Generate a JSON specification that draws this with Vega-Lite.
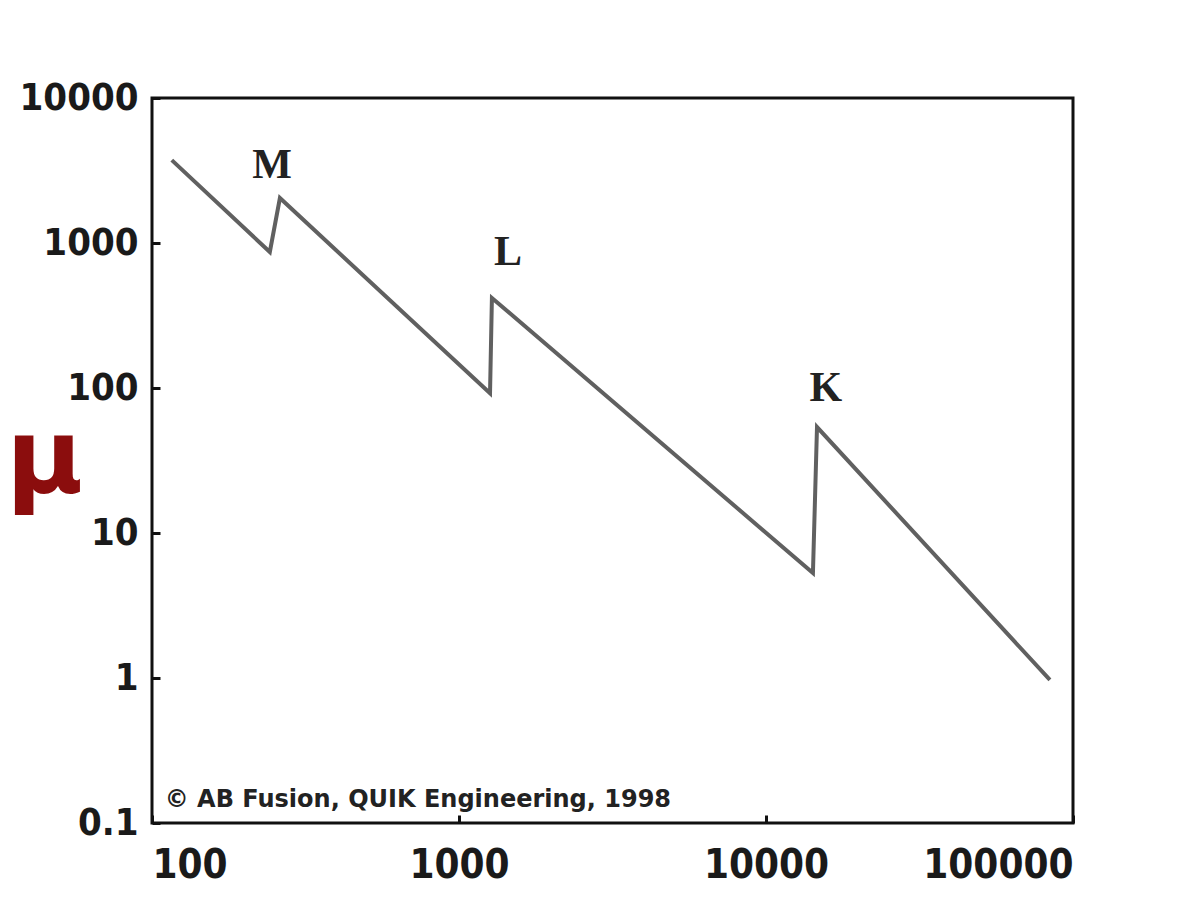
{
  "$schema": "https://vega.github.io/schema/vega-lite/v6.json",
  "width": 921,
  "height": 725,
  "autosize": {"type": "none"},
  "padding": {"left": 152, "top": 98, "right": 105, "bottom": 81},
  "background": "white",
  "config": {
    "view": {"stroke": "#111", "strokeWidth": 3, "fill": "white"},
    "axis": {
      "labelFont": "DejaVu Sans Condensed, DejaVu Sans, sans-serif",
      "labelFontWeight": "bold",
      "labelColor": "#1a1a1a",
      "labelFontSize": 38,
      "grid": false,
      "domain": false,
      "ticks": true,
      "tickColor": "#111",
      "tickWidth": 3,
      "tickSize": -8
    }
  },
  "datasets": {
    "curve": [
      {"order": 1, "energy": 116, "mu": 3730},
      {"order": 2, "energy": 242, "mu": 867},
      {"order": 3, "energy": 261, "mu": 2043},
      {"order": 4, "energy": 1262, "mu": 92},
      {"order": 5, "energy": 1280, "mu": 418},
      {"order": 6, "energy": 14220, "mu": 5.3},
      {"order": 7, "energy": 14660, "mu": 53.8},
      {"order": 8, "energy": 84100, "mu": 0.97}
    ],
    "edges": [
      {"label": "M", "energy": 246, "mu": 3450},
      {"label": "L", "energy": 1445, "mu": 867},
      {"label": "K", "energy": 15670, "mu": 100}
    ],
    "credit": [
      {"text": "© AB Fusion, QUIK Engineering, 1998", "energy": 110, "mu": 0.144}
    ]
  },
  "layer": [
    {
      "data": {"name": "curve"},
      "mark": {"type": "line", "color": "#606060", "strokeWidth": 4},
      "encoding": {
        "x": {
          "field": "energy", "type": "quantitative",
          "scale": {"type": "log", "domain": [100, 100000]},
          "axis": {"title": null, "values": [100, 1000, 10000, 100000], "format": "~g", "labelPadding": 30, "labelFontSize": 40}
        },
        "y": {
          "field": "mu", "type": "quantitative",
          "scale": {"type": "log", "domain": [0.1, 10000]},
          "axis": {
            "values": [0.1, 1, 10, 100, 1000, 10000], "format": "~g", "labelPadding": 22,
            "title": "μ", "titleAngle": 0, "titleX": -108, "titleY": 362,
            "titleAlign": "center", "titleBaseline": "middle",
            "titleFont": "DejaVu Sans, sans-serif", "titleFontSize": 105,
            "titleFontWeight": "bold", "titleColor": "#8b0d0d"
          }
        },
        "order": {"field": "order", "type": "quantitative"}
      }
    },
    {
      "data": {"name": "edges"},
      "mark": {"type": "text", "font": "Liberation Serif, serif", "fontSize": 42, "fontWeight": "bold", "color": "#222", "baseline": "middle", "align": "center"},
      "encoding": {
        "x": {"field": "energy", "type": "quantitative"},
        "y": {"field": "mu", "type": "quantitative"},
        "text": {"field": "label"}
      }
    },
    {
      "data": {"name": "credit"},
      "mark": {"type": "text", "font": "DejaVu Sans, sans-serif", "fontSize": 24, "fontWeight": "bold", "color": "#222", "align": "left", "baseline": "middle"},
      "encoding": {
        "x": {"field": "energy", "type": "quantitative"},
        "y": {"field": "mu", "type": "quantitative"},
        "text": {"field": "text"}
      }
    }
  ]
}
